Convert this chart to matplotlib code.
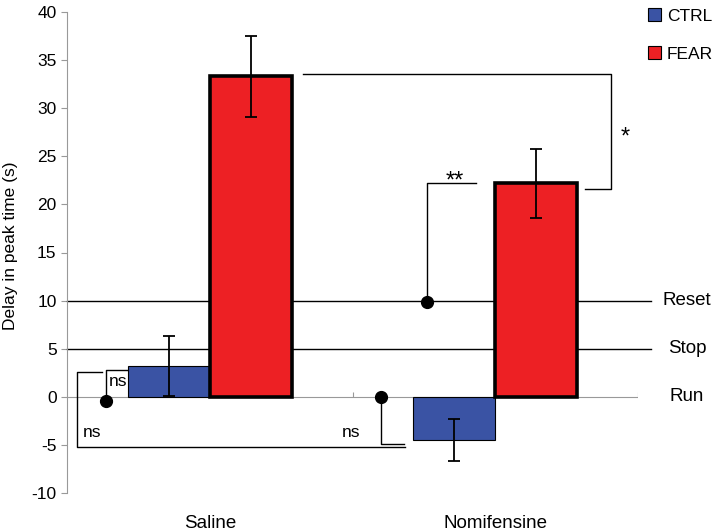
import matplotlib
matplotlib.use("Agg")
import matplotlib.pyplot as plt
from matplotlib.patches import Patch
import numpy as np

plt.rcParams['font.family'] = ['Liberation Sans', 'DejaVu Sans']

categories = ["Saline", "Nomifensine"]
series = ["CTRL", "FEAR"]
ctrl_vals = [3.2, -4.5]
ctrl_err = [3.1, 2.2]
fear_vals = [33.3, 22.2]
fear_err = [4.2, 3.6]
ref_levels = [10, 5, 0]
ref_labels = ["Reset", "Stop", "Run"]
yticks = list(range(-10, 41, 5))

blue = "#3A53A4"
red = "#ED2024"

fig = plt.figure(figsize=(7.2, 5.31), dpi=100)
ax = fig.add_axes([67/720, 1-493/531, (638-67)/720, (493-12)/531])

x = np.arange(len(categories))
w = 0.2875
ax.bar(x - w/2, ctrl_vals, w, color=blue, edgecolor="black", linewidth=0.8, zorder=3)
ax.bar(x + w/2, fear_vals, w, color=red, edgecolor="black", linewidth=2.6, zorder=3)
ax.errorbar(x - w/2, ctrl_vals, yerr=ctrl_err, fmt="none", ecolor="black",
            elinewidth=1.3, capsize=4.5, capthick=1.3, zorder=4)
ax.errorbar(x + w/2, fear_vals, yerr=fear_err, fmt="none", ecolor="black",
            elinewidth=1.3, capsize=4.5, capthick=1.3, zorder=4)

ax.set_xlim(-0.5, 1.5)
ax.set_ylim(-10, 40)
ax.set_yticks(yticks)
ax.set_yticklabels([str(t) for t in yticks], fontsize=12.5)
ax.set_xticks(x)
ax.set_xticklabels(categories, fontsize=13.5)
ax.tick_params(axis="x", length=0, pad=16)
ax.tick_params(axis="y", length=4, color="#999999", width=0.8)
for s in ["top", "right", "bottom"]:
    ax.spines[s].set_visible(False)
ax.spines["left"].set_color("#999999")
ax.spines["left"].set_linewidth(0.8)
ax.set_ylabel("Delay in peak time (s)", fontsize=12.5, labelpad=6)
ax.yaxis.set_label_coords(-0.085, 0.515)

# zero line with small category-boundary ticks
ax.axhline(0, color="#999999", linewidth=0.8, zorder=1)
ax.vlines([0.5, 1.5], 0, 0.5, color="#999999", linewidth=0.8, zorder=1)

# reference lines extending beyond axes
for lvl, lab in zip(ref_levels, ref_labels):
    if lvl != 0:
        ax.plot([-0.5, 1.545], [lvl, lvl], color="black", linewidth=1.0,
                clip_on=False, zorder=2)
    ax.text(1.672, lvl, lab, fontsize=13.5, ha="center", va="center",
            clip_on=False)

lk = dict(color="black", linewidth=1.0, clip_on=False, zorder=5)
# outer ns bracket (Saline)
ax.plot([-0.377, -0.465, -0.465, 0.684], [2.6, 2.6, -5.2, -5.2], **lk)
ax.text(-0.412, -3.7, "ns", fontsize=12.5, ha="center", va="center")
# small ns bracket
ax.plot([-0.363, -0.363, -0.29], [-0.4, 2.8, 2.8], **lk)
ax.plot([-0.363], [-0.4], "o", color="black", markersize=8.5, zorder=6)
ax.text(-0.322, 1.6, "ns", fontsize=12.5, ha="center", va="center", zorder=6)
# Nomifensine ns bracket
ax.plot([0.600, 0.600, 0.680], [0.0, -4.9, -4.9], **lk)
ax.plot([0.600], [0.0], "o", color="black", markersize=8.5, zorder=6)
ax.text(0.495, -3.7, "ns", fontsize=12.5, ha="center", va="center")
# ** bracket
ax.plot([0.761, 0.761, 0.933], [9.9, 22.2, 22.2], **lk)
ax.plot([0.761], [9.9], "o", color="black", markersize=8.5, zorder=6)
ax.text(0.859, 22.4, "**", fontsize=17, ha="center", va="center")
# * bracket
ax.plot([0.327, 1.405, 1.405, 1.314], [33.6, 33.6, 21.6, 21.6], **lk)
ax.text(1.454, 27.0, "*", fontsize=17, ha="center", va="center")

handles = [Patch(facecolor=blue, edgecolor="black", linewidth=0.8),
           Patch(facecolor=red, edgecolor="black", linewidth=0.8)]
fig.legend(handles, series, loc="upper left", bbox_to_anchor=(645/720, 1-5/531),
           frameon=False, fontsize=12.5, handlelength=0.75, handleheight=0.75,
           handletextpad=0.3, labelspacing=1.3, borderaxespad=0, borderpad=0.2)

fig.savefig("out.png", dpi=100)
